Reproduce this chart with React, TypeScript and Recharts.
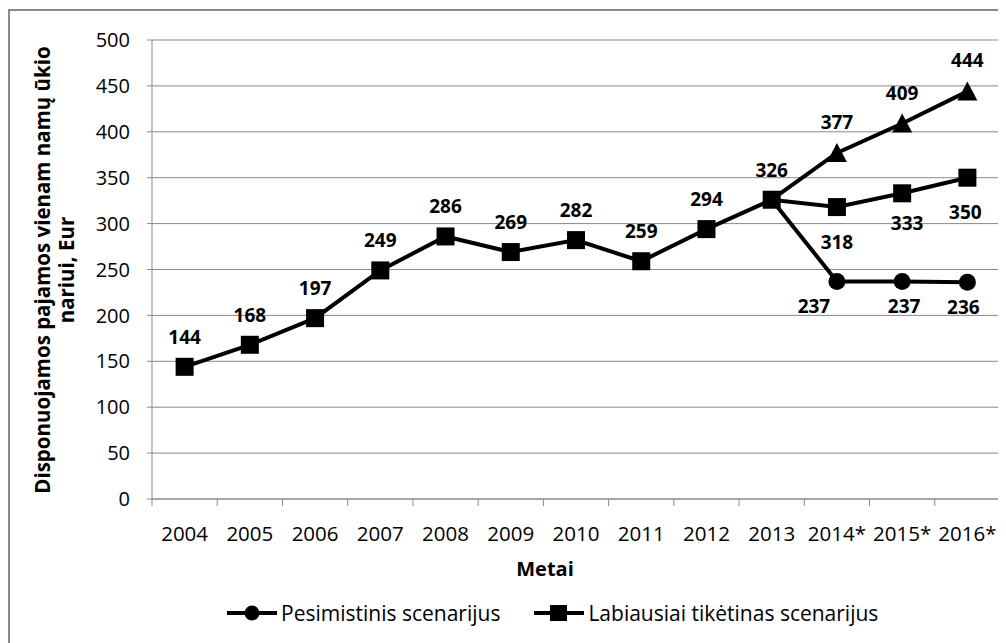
import React from "react";
import { LineChart, Line, XAxis, YAxis, CartesianGrid, LabelList } from "recharts";

const years = ["2004", "2005", "2006", "2007", "2008", "2009", "2010", "2011", "2012", "2013", "2014*", "2015*", "2016*"];
const likely = [144, 168, 197, 249, 286, 269, 282, 259, 294, 326, 318, 333, 350];
const pessimistic = [null, null, null, null, null, null, null, null, null, 326, 237, 237, 236];
const optimistic = [null, null, null, null, null, null, null, null, null, 326, 377, 409, 444];
const yTicks = [0, 50, 100, 150, 200, 250, 300, 350, 400, 450, 500];
const legendNames = ["Pesimistinis scenarijus", "Labiausiai tikėtinas scenarijus"];

const data = years.map((year, i) => ({
  year,
  likely: likely[i],
  pessimistic: pessimistic[i],
  optimistic: optimistic[i],
}));

const W = 998;
const H = 635;
const M = { top: 32, right: 6, left: 0, bottom: 0 };
const Y_AXIS_W = 144;
const X_AXIS_H = 144;
const PLOT_W = W - M.left - M.right - Y_AXIS_W;
const AXIS_Y = H - X_AXIS_H;
const BAND = PLOT_W / years.length;
const FONT = "'Open Sans', sans-serif";
const GRAY = "#898989";

// --- markers -------------------------------------------------------------
const skipFirst = 9; // branch series start at the 2013 square

const SquareDot = (p: any) => {
  if (p.cx == null || p.cy == null) return null;
  return <rect key={p.index} x={p.cx - 9} y={p.cy - 9} width={18} height={18} fill="#000" />;
};
const CircleDot = (p: any) => {
  if (p.cx == null || p.cy == null || p.index === skipFirst) return null;
  return <circle key={p.index} cx={p.cx} cy={p.cy} r={8.5} fill="#000" />;
};
const TriangleDot = (p: any) => {
  if (p.cx == null || p.cy == null || p.index === skipFirst) return null;
  const { cx, cy } = p;
  return <path key={p.index} d={`M${cx},${cy - 10} L${cx + 10},${cy + 9} L${cx - 10},${cy + 9} Z`} fill="#000" />;
};

// --- data labels ---------------------------------------------------------
const labelText = (x: number, y: number, v: any, key: any) => (
  <text key={key} x={x} y={y} textAnchor="middle" dominantBaseline="central"
    fontFamily={FONT} fontWeight={700} fontSize={19} fill="#000">{v}</text>
);

const likelyLabel = (p: any) => {
  if (p.value == null) return null;
  if (p.index >= 10) {
    const dx = [0, 5, -2][p.index - 10];
    const dy = [35, 30, 34][p.index - 10];
    return labelText(p.x + dx, p.y + dy, p.value, p.index);
  }
  return labelText(p.x, p.y - 30, p.value, p.index);
};
const pessLabel = (p: any) => {
  if (p.value == null || p.index === skipFirst) return null;
  const dx = [-23, 2, -4][p.index - 10];
  return labelText(p.x + dx, p.y + 25, p.value, p.index);
};
const optLabel = (p: any) => {
  if (p.value == null || p.index === skipFirst) return null;
  return labelText(p.x, p.y - 31, p.value, p.index);
};

// --- axes ----------------------------------------------------------------
const XTick = (p: any) => {
  const left = p.x - BAND / 2;
  const last = p.index === years.length - 1;
  return (
    <g>
      <line x1={left} x2={left} y1={AXIS_Y} y2={AXIS_Y + 7} stroke={GRAY} />
      {last && <line x1={left + BAND} x2={left + BAND} y1={AXIS_Y} y2={AXIS_Y + 7} stroke={GRAY} />}
      <text x={p.x} y={AXIS_Y + 34} textAnchor="middle" dominantBaseline="central"
        fontFamily={FONT} fontSize={20.5} fill="#000">{p.payload.value}</text>
    </g>
  );
};

const YTitle = () => {
  const cy = 262;
  return (
    <text transform={`translate(0, ${cy}) rotate(-90)`} textAnchor="middle"
      fontFamily={FONT} fontWeight={700} fontSize={20.5} fill="#000">
      <tspan x={0} y={42}>Disponuojamos pajamos vienam namų ūkio</tspan>
      <tspan x={0} y={66}>nariui, Eur</tspan>
    </text>
  );
};

const XTitle = (p: any) => {
  const vb = p.viewBox || {};
  return (
    <text x={vb.x + vb.width / 2 - 31} y={AXIS_Y + 69} textAnchor="middle" dominantBaseline="central"
      fontFamily={FONT} fontWeight={700} fontSize={20} fill="#000">Metai</text>
  );
};

const Legend = () => (
  <div style={{ position: "absolute", top: 591, left: 219, display: "flex", alignItems: "center",
    fontFamily: FONT, fontSize: 21, color: "#000", whiteSpace: "nowrap" }}>
    <svg width={50} height={20}><line x1={0} x2={50} y1={10} y2={10} stroke="#000" strokeWidth={4} />
      <circle cx={25} cy={10} r={7.5} fill="#000" /></svg>
    <span style={{ marginLeft: 4 }}>{legendNames[0]}</span>
    <svg width={50} height={20} style={{ marginLeft: 34 }}><line x1={0} x2={50} y1={10} y2={10} stroke="#000" strokeWidth={4} />
      <rect x={16} y={2} width={17} height={16} fill="#000" /></svg>
    <span style={{ marginLeft: 4 }}>{legendNames[1]}</span>
  </div>
);

export default function App() {
  return (
    <div style={{ position: "relative", width: W, height: H, overflow: "hidden", background: "#fff" }}>
      <div style={{ position: "absolute", left: 0, top: 1, width: 1200, height: 900, border: `2px solid ${GRAY}` }} />
      <LineChart width={W} height={H} data={data} margin={M}>
        <CartesianGrid horizontal vertical={false} stroke={GRAY} strokeWidth={1} />
        <XAxis dataKey="year" height={X_AXIS_H} stroke={GRAY} tickLine={false} interval={0}
          padding={{ left: BAND / 2, right: BAND / 2 }} tick={<XTick />} label={<XTitle />} />
        <YAxis width={Y_AXIS_W} domain={[0, 500]} ticks={yTicks} interval={0} stroke={GRAY}
          tickSize={5} tickMargin={17} tick={{ fontFamily: FONT, fontSize: 20, fill: "#000" }}
          label={<YTitle />} />
        <Line dataKey="optimistic" stroke="#000" strokeWidth={4} dot={<TriangleDot />}
          isAnimationActive={false} connectNulls={false}>
          <LabelList dataKey="optimistic" content={optLabel} />
        </Line>
        <Line dataKey="pessimistic" stroke="#000" strokeWidth={4} dot={<CircleDot />}
          isAnimationActive={false} connectNulls={false}>
          <LabelList dataKey="pessimistic" content={pessLabel} />
        </Line>
        <Line dataKey="likely" stroke="#000" strokeWidth={4} dot={<SquareDot />}
          isAnimationActive={false}>
          <LabelList dataKey="likely" content={likelyLabel} />
        </Line>
      </LineChart>
      <Legend />
    </div>
  );
}
